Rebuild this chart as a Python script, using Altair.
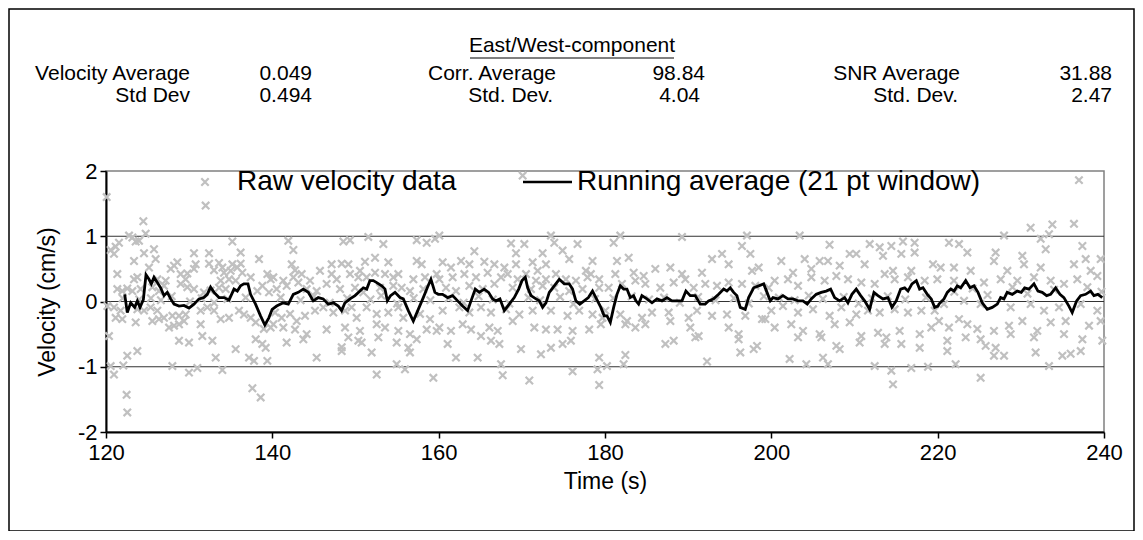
import altair as alt
import pandas as pd

FONT = "Liberation Sans"

# ---------------- data ----------------
raw_120_140 = [
    (120.08, 1.60), (131.98, 1.47), (124.49, 1.23), (124.77, 1.04), (122.77, 1.01), (123.17, 0.98),
    (123.57, 0.92), (123.97, 0.93), (120.56, 0.79), (121.16, 0.84), (121.56, 0.90), (120.96, 0.73),
    (135.19, 0.92), (125.77, 0.80), (124.57, 0.74), (123.37, 0.62), (130.58, 0.74), (132.39, 0.74),
    (136.19, 0.75), (138.40, 0.65), (125.97, 0.65), (128.58, 0.60), (128.18, 0.55), (130.78, 0.57),
    (132.39, 0.58), (133.59, 0.59), (135.19, 0.57), (136.19, 0.58), (125.17, 0.52), (127.78, 0.50),
    (129.78, 0.43), (130.58, 0.50), (132.99, 0.48), (133.99, 0.52), (134.19, 0.44), (134.99, 0.47),
    (135.79, 0.52), (136.39, 0.44), (121.36, 0.42), (123.77, 0.37), (123.37, 0.34), (126.17, 0.34),
    (127.17, 0.32), (128.98, 0.42), (129.58, 0.34), (133.79, 0.32), (134.79, 0.34), (135.59, 0.32),
    (137.40, 0.37), (139.40, 0.42), (139.80, 0.34), (121.36, 0.19), (121.96, 0.16), (122.56, 0.20),
    (123.17, 0.16), (124.17, 0.19), (125.57, 0.22), (126.37, 0.16), (126.97, 0.24), (128.98, 0.27),
    (129.78, 0.22), (130.58, 0.19), (131.78, 0.14), (132.58, 0.17), (133.59, 0.21), (134.39, 0.19),
    (138.20, 0.16), (138.80, 0.24), (139.60, 0.14), (120.16, -0.07), (120.96, -0.09), (121.76, -0.14),
    (121.96, -0.27), (121.16, -0.25), (123.77, -0.12), (124.57, -0.14), (125.37, -0.09), (126.17, -0.14),
    (125.57, -0.30), (126.37, -0.27), (126.97, -0.25), (127.58, -0.40), (128.18, -0.37), (128.78, -0.35),
    (129.38, -0.30), (127.98, -0.22), (128.78, -0.22), (129.58, -0.20), (123.57, -0.32), (131.38, -0.14),
    (132.18, -0.09), (132.99, -0.14), (131.38, -0.35), (133.79, -0.27), (134.79, -0.25), (135.99, -0.14),
    (136.59, -0.20), (137.40, -0.25), (138.00, -0.32), (138.98, -0.42), (139.80, -0.40), (120.36, -0.53),
    (128.78, -0.60), (129.98, -0.63), (131.58, -0.53), (132.79, -0.60), (138.00, -0.58), (138.80, -0.65),
    (139.20, -0.71), (122.56, -0.83), (123.77, -0.76), (135.59, -0.73), (133.19, -0.86), (137.20, -0.86),
    (137.80, -0.91), (139.40, -0.91), (120.56, -0.99), (120.96, -1.12), (122.08, -0.98), (127.98, -0.99),
    (129.98, -1.09), (130.98, -1.02), (133.99, -1.05), (122.48, -1.43), (122.56, -1.70), (137.60, -1.33),
    (138.60, -1.47), (125.40, 0.05), (126.60, 0.02), (127.90, 0.08), (130.10, 0.00), (131.50, 0.05),
    (133.00, -0.02), (134.60, 0.04), (136.80, 0.06), (122.00, 0.05), (124.00, 0.03),
]

raw_140_160 = [
    (141.92, 0.93), (142.53, 0.79), (148.54, 0.92), (149.34, 0.94), (151.54, 0.99), (153.35, 0.88),
    (157.36, 0.94), (158.56, 0.90), (159.56, 0.96), (142.33, 0.57), (142.73, 0.48), (147.13, 0.57),
    (148.34, 0.58), (149.14, 0.57), (151.14, 0.61), (152.35, 0.67), (153.95, 0.60), (157.36, 0.62),
    (157.96, 0.57), (140.12, 0.37), (141.32, 0.32), (142.53, 0.37), (143.53, 0.42), (144.53, 0.32),
    (145.73, 0.47), (147.13, 0.42), (147.74, 0.34), (149.34, 0.42), (150.34, 0.37), (150.54, 0.47),
    (151.34, 0.37), (152.35, 0.44), (153.55, 0.42), (154.55, 0.37), (155.15, 0.42), (156.96, 0.34),
    (158.36, 0.37), (159.76, 0.42), (140.52, 0.19), (141.72, 0.24), (143.13, 0.29), (144.13, 0.19),
    (145.33, 0.16), (146.53, 0.27), (148.14, 0.19), (149.94, 0.21), (150.94, 0.14), (152.95, 0.21),
    (154.55, 0.24), (155.55, 0.21), (156.55, 0.16), (158.16, 0.19), (140.32, -0.17), (141.12, -0.25),
    (142.13, -0.19), (142.93, -0.30), (143.93, -0.22), (145.13, -0.14), (146.13, -0.09), (147.34, -0.17),
    (148.74, -0.14), (149.54, -0.09), (150.14, -0.25), (151.34, -0.09), (152.55, -0.19), (153.95, -0.17),
    (155.15, -0.09), (155.75, -0.25), (157.76, -0.19), (158.96, -0.27), (140.12, -0.35), (141.32, -0.40),
    (142.73, -0.43), (144.13, -0.50), (146.53, -0.43), (148.74, -0.40), (150.54, -0.45), (152.55, -0.35),
    (153.55, -0.40), (155.15, -0.45), (156.55, -0.50), (158.56, -0.43), (159.76, -0.45), (141.72, -0.63),
    (143.73, -0.58), (149.14, -0.55), (150.34, -0.60), (152.75, -0.55), (154.95, -0.63), (157.36, -0.58),
    (148.34, -0.70), (148.34, -0.76), (150.74, -0.63), (151.94, -0.78), (156.35, -0.71), (156.55, -0.78),
    (145.33, -0.86), (154.95, -0.96), (155.95, -1.04), (152.55, -1.12), (159.36, -1.17), (141.00, 0.06),
    (143.40, 0.02), (145.00, 0.08), (146.90, -0.02), (149.00, 0.05), (151.80, 0.03), (153.10, 0.09),
    (155.00, -0.03), (157.00, 0.05), (159.00, 0.02),
]

raw_160_180 = [
    (170.10, 1.93), (160.08, 1.01), (168.70, 0.89), (170.30, 0.88), (173.50, 1.01), (173.90, 0.90),
    (176.70, 0.88), (164.29, 0.77), (169.30, 0.74), (172.50, 0.74), (174.90, 0.78), (175.70, 0.65),
    (178.50, 0.62), (160.48, 0.60), (161.48, 0.52), (162.69, 0.62), (163.69, 0.57), (165.49, 0.61),
    (166.70, 0.57), (167.90, 0.52), (169.30, 0.57), (171.30, 0.60), (171.90, 0.47), (172.90, 0.57),
    (177.70, 0.47), (178.30, 0.42), (160.08, 0.34), (161.68, 0.37), (163.09, 0.42), (164.49, 0.37),
    (165.89, 0.44), (167.50, 0.37), (168.30, 0.42), (169.50, 0.34), (170.50, 0.42), (171.70, 0.32),
    (172.90, 0.34), (174.10, 0.42), (175.30, 0.34), (176.50, 0.32), (177.90, 0.37), (179.30, 0.34),
    (160.88, 0.21), (162.08, 0.16), (163.69, 0.24), (165.29, 0.19), (166.70, 0.27), (168.90, 0.21),
    (171.10, 0.19), (172.50, 0.24), (173.90, 0.21), (175.70, 0.16), (177.30, 0.19), (179.30, 0.21),
    (160.48, -0.14), (162.49, -0.09), (163.69, -0.17), (165.09, -0.09), (166.29, -0.17), (168.10, -0.12),
    (169.70, -0.20), (171.30, -0.14), (173.50, -0.14), (175.50, -0.22), (176.90, -0.14), (178.50, -0.20),
    (179.70, -0.25), (160.08, -0.40), (161.48, -0.45), (162.89, -0.35), (163.89, -0.43), (166.10, -0.40),
    (167.10, -0.45), (168.90, -0.30), (171.50, -0.40), (172.90, -0.43), (174.30, -0.43), (176.10, -0.45),
    (178.10, -0.43), (179.50, -0.35), (161.08, -0.65), (162.08, -0.86), (165.09, -0.53), (166.29, -0.60),
    (167.30, -0.65), (169.90, -0.73), (172.30, -0.81), (173.50, -0.71), (174.90, -0.65), (175.90, -0.60),
    (179.30, -0.86), (164.69, -0.86), (167.50, -0.96), (167.70, -1.13), (170.90, -1.21), (176.10, -1.07),
    (179.10, -1.04), (179.30, -1.28), (161.20, 0.05), (163.00, -0.02), (164.80, 0.08), (166.50, 0.03),
    (168.50, -0.03), (170.80, 0.06), (172.20, 0.02), (174.60, 0.07), (176.20, -0.04), (178.80, 0.04),
]

raw_180_200 = [
    (181.04, 0.90), (181.84, 1.01), (181.44, 0.62), (182.85, 0.67), (189.26, 0.99), (196.47, 0.85),
    (197.07, 1.01), (197.48, 0.73), (181.24, 0.42), (183.45, 0.44), (184.65, 0.39), (186.05, 0.50),
    (187.86, 0.52), (189.26, 0.42), (191.66, 0.44), (192.87, 0.65), (194.07, 0.73), (194.87, 0.57),
    (197.68, 0.47), (198.48, 0.52), (180.44, 0.21), (182.04, 0.27), (183.65, 0.32), (184.85, 0.27),
    (186.65, 0.21), (188.26, 0.29), (189.66, 0.34), (190.66, 0.21), (192.06, 0.27), (193.47, 0.24),
    (194.87, 0.29), (196.47, 0.27), (198.08, 0.24), (199.68, 0.21), (180.04, -0.14), (181.84, -0.20),
    (182.65, -0.30), (184.45, -0.25), (185.65, -0.17), (187.66, -0.17), (190.06, -0.25), (191.06, -0.14),
    (192.87, -0.22), (194.67, -0.20), (196.87, -0.22), (198.88, -0.27), (182.45, -0.35), (183.65, -0.40),
    (184.85, -0.35), (187.86, -0.30), (190.26, -0.40), (191.26, -0.53), (194.87, -0.40), (196.07, -0.50),
    (199.28, -0.27), (187.26, -0.65), (188.26, -0.60), (190.86, -0.55), (196.07, -0.58), (197.88, -0.73),
    (198.28, -0.68), (196.27, -0.78), (180.24, -0.99), (182.24, -0.96), (182.45, -0.82), (192.27, -0.92),
    (181.00, 0.05), (183.20, 0.08), (185.30, 0.03), (187.10, 0.06), (189.00, -0.02), (191.20, 0.07),
    (193.30, 0.02), (195.50, 0.05), (197.30, -0.03), (199.10, 0.08),
]

raw_200_220 = [
    (203.41, 1.01), (207.00, 0.87), (211.83, 0.88), (213.03, 0.83), (214.43, 0.85), (215.83, 0.92),
    (217.23, 0.90), (217.23, 0.75), (201.20, 0.62), (202.61, 0.44), (204.01, 0.65), (204.81, 0.50),
    (205.81, 0.62), (206.81, 0.62), (208.22, 0.55), (209.42, 0.73), (210.22, 0.73), (211.22, 0.57),
    (213.43, 0.70), (214.63, 0.47), (215.63, 0.73), (216.83, 0.47), (219.44, 0.57), (200.40, 0.32),
    (202.00, 0.34), (203.21, 0.24), (204.81, 0.37), (206.41, 0.32), (207.82, 0.39), (209.22, 0.34),
    (210.82, 0.29), (212.43, 0.27), (213.63, 0.42), (214.83, 0.34), (216.43, 0.37), (218.44, 0.32),
    (200.00, -0.14), (201.40, -0.07), (203.21, -0.17), (205.01, -0.12), (207.01, -0.22), (208.42, -0.09),
    (210.22, -0.20), (211.62, -0.14), (213.03, -0.17), (214.83, -0.12), (216.43, -0.17), (218.04, -0.14),
    (219.64, -0.14), (200.40, -0.40), (202.40, -0.35), (203.81, -0.45), (205.81, -0.50), (207.62, -0.35),
    (209.42, -0.32), (210.62, -0.63), (212.83, -0.48), (213.83, -0.55), (215.43, -0.45), (217.84, -0.50),
    (219.24, -0.40), (203.21, -0.55), (206.01, -0.55), (207.82, -0.68), (208.22, -0.73), (210.82, -0.53),
    (213.63, -0.65), (215.63, -0.65), (217.84, -0.71), (202.20, -0.88), (204.21, -0.96), (206.21, -0.86),
    (206.81, -0.96), (212.43, -0.99), (214.43, -1.06), (216.83, -1.02), (218.84, -1.00), (214.63, -1.27),
    (200.90, 0.06), (202.80, 0.02), (204.50, 0.09), (206.20, 0.04), (208.70, 0.07), (210.50, -0.03),
    (212.10, 0.05), (214.00, 0.08), (216.10, 0.03), (218.60, 0.06),
]

raw_220_240 = [
    (236.99, 1.86), (231.18, 1.13), (233.79, 1.18), (236.39, 1.19), (233.39, 1.03), (221.36, 0.90),
    (222.57, 0.88), (227.98, 1.01), (232.39, 0.96), (237.40, 0.85), (223.57, 0.75), (226.97, 0.75),
    (230.18, 0.70), (232.99, 0.80), (237.80, 0.65), (239.60, 0.65), (220.36, 0.52), (221.96, 0.52),
    (223.97, 0.47), (226.77, 0.62), (228.38, 0.47), (230.38, 0.57), (232.39, 0.52), (236.39, 0.57),
    (238.40, 0.47), (219.96, 0.34), (221.96, 0.32), (225.57, 0.29), (227.58, 0.34), (229.58, 0.32),
    (231.58, 0.37), (233.59, 0.32), (235.19, 0.27), (236.79, 0.34), (239.20, 0.39), (220.76, -0.04),
    (223.17, 0.01), (225.17, -0.04), (228.78, -0.09), (231.18, -0.04), (232.79, -0.14), (234.59, -0.09),
    (237.20, -0.04), (239.20, -0.14), (220.16, -0.30), (221.36, -0.40), (222.57, -0.27), (223.57, -0.35),
    (224.77, -0.42), (226.77, -0.45), (228.58, -0.37), (230.18, -0.30), (231.98, -0.45), (233.59, -0.32),
    (235.39, -0.30), (238.20, -0.37), (239.60, -0.30), (221.16, -0.60), (223.37, -0.55), (225.17, -0.58),
    (228.78, -0.50), (231.58, -0.55), (235.19, -0.50), (237.40, -0.58), (239.80, -0.60), (221.16, -0.76),
    (225.77, -0.68), (226.97, -0.71), (226.77, -0.83), (227.98, -0.83), (231.78, -0.78), (234.99, -0.83),
    (235.99, -0.80), (237.20, -0.76), (222.16, -0.96), (233.39, -0.99), (225.17, -1.17), (222.00, 0.15),
    (224.20, 0.20), (226.00, 0.10), (229.00, 0.22), (230.80, 0.12), (234.00, 0.18), (238.00, 0.22),
    (239.70, 0.15),
]

run_120_140 = [
    (122.25, 0.11), (122.56, -0.17), (122.97, -0.02), (123.45, -0.09), (123.77, 0.01), (124.09, -0.09),
    (124.49, 0.03), (124.81, 0.41), (125.17, 0.34), (125.45, 0.27), (125.77, 0.37), (126.17, 0.29),
    (126.57, 0.21), (126.97, 0.09), (127.37, 0.14), (127.78, 0.04), (128.18, -0.04), (128.78, -0.07),
    (129.38, -0.06), (129.98, -0.10), (130.58, -0.04), (131.18, 0.04), (131.78, 0.06), (132.18, 0.11),
    (132.57, 0.22), (132.99, 0.14), (133.59, 0.06), (134.19, 0.06), (134.79, 0.02), (135.39, 0.19),
    (135.79, 0.16), (136.18, 0.24), (136.58, 0.27), (137.07, 0.27), (137.38, 0.11), (137.98, -0.04),
    (138.58, -0.22), (139.10, -0.36), (139.58, -0.25), (139.98, -0.12),
]
run_140_160 = [
    (140.52, -0.07), (141.32, -0.02), (141.92, -0.04), (142.52, 0.11), (143.12, 0.14), (143.72, 0.19),
    (144.32, 0.14), (144.92, 0.01), (145.52, 0.06), (146.12, 0.04), (146.72, -0.04), (147.33, -0.02),
    (147.93, -0.07), (148.33, -0.14), (148.73, -0.02), (149.34, 0.04), (149.94, 0.09), (150.54, 0.16),
    (150.94, 0.21), (151.35, 0.19), (151.74, 0.32), (152.14, 0.32), (152.55, 0.29), (153.15, 0.24),
    (153.55, 0.19), (153.83, 0.01), (154.22, 0.09), (154.75, 0.14), (155.35, 0.06), (155.75, 0.04),
    (156.35, -0.14), (156.95, -0.30), (157.55, -0.12), (158.15, 0.06), (158.63, 0.21), (159.07, 0.34),
    (159.55, 0.14), (159.95, 0.11),
]
run_160_180 = [
    (160.47, 0.11), (161.08, 0.06), (161.68, 0.09), (162.28, 0.01), (162.88, -0.07), (163.48, -0.14),
    (163.89, 0.01), (164.40, 0.19), (164.88, 0.14), (165.48, 0.19), (166.00, 0.14), (166.49, 0.04),
    (166.89, 0.01), (167.37, 0.04), (167.89, -0.14), (168.49, -0.04), (169.09, 0.06), (169.62, 0.19),
    (170.02, 0.32), (170.42, 0.37), (170.70, 0.21), (171.10, 0.09), (171.70, 0.04), (172.10, 0.01),
    (172.50, -0.09), (172.90, -0.02), (173.30, 0.14), (173.90, 0.24), (174.50, 0.34), (175.10, 0.27),
    (175.70, 0.27), (176.10, 0.19), (176.50, 0.01), (176.97, -0.04), (177.49, 0.01), (178.00, 0.06),
    (178.50, 0.16), (178.90, 0.06), (179.50, -0.09), (179.90, -0.22),
]
run_180_200 = [
    (180.24, -0.22), (180.64, -0.32), (181.04, -0.09), (181.44, 0.11), (181.84, 0.24), (182.24, 0.19),
    (182.64, 0.19), (183.04, 0.06), (183.44, 0.09), (183.72, 0.01), (184.04, -0.04), (184.44, 0.09),
    (185.04, 0.04), (185.65, -0.02), (186.25, 0.04), (186.85, 0.01), (187.45, 0.06), (188.05, 0.01),
    (188.65, 0.01), (189.25, 0.01), (189.73, 0.16), (190.25, 0.09), (190.85, 0.09), (191.45, -0.04),
    (192.05, -0.04), (192.46, 0.01), (193.06, 0.04), (193.66, 0.11), (194.27, 0.19), (194.66, 0.16),
    (195.06, 0.21), (195.47, 0.14), (195.86, 0.09), (196.26, -0.09), (196.86, -0.12), (197.27, 0.06),
    (197.88, 0.21), (198.48, 0.24), (199.08, 0.27), (199.48, 0.14), (199.87, 0.01),
]
run_200_220 = [
    (200.20, 0.06), (200.80, 0.04), (201.40, 0.09), (202.00, 0.04), (202.60, 0.04), (203.20, 0.01),
    (203.80, 0.01), (204.32, -0.04), (204.80, 0.04), (205.40, 0.11), (206.00, 0.14), (206.60, 0.16),
    (207.13, 0.19), (207.61, 0.06), (208.21, 0.01), (208.81, 0.06), (209.21, -0.02), (209.69, 0.11),
    (210.21, 0.19), (210.74, 0.09), (211.22, 0.01), (211.82, -0.12), (212.34, 0.14), (212.82, 0.09),
    (213.42, 0.04), (214.02, 0.06), (214.50, -0.09), (215.02, 0.01), (215.55, 0.19), (216.03, 0.21),
    (216.43, 0.16), (216.91, 0.27), (217.43, 0.32), (217.83, 0.19), (218.23, 0.21), (218.75, 0.11),
    (219.23, 0.04), (219.64, -0.09), (220.04, -0.07),
]
run_220_240 = [
    (220.16, -0.04), (220.76, 0.04), (221.16, 0.14), (221.57, 0.19), (221.97, 0.16), (222.36, 0.24),
    (222.77, 0.21), (223.37, 0.32), (223.89, 0.21), (224.37, 0.24), (224.85, 0.14), (225.36, -0.02),
    (225.96, -0.12), (226.56, -0.09), (227.17, -0.04), (227.57, 0.06), (227.97, 0.04), (228.36, 0.14),
    (228.97, 0.11), (229.57, 0.16), (230.05, 0.14), (230.46, 0.21), (230.97, 0.19), (231.58, 0.27),
    (232.06, 0.16), (232.57, 0.14), (233.10, 0.09), (233.58, 0.11), (234.18, 0.21), (234.70, 0.11),
    (235.18, 0.06), (235.78, -0.07), (236.18, -0.17), (236.71, 0.01), (237.19, 0.09), (237.79, 0.11),
    (238.39, 0.16), (238.79, 0.09), (239.27, 0.11), (239.79, 0.06),
]

x_ticks = [120, 140, 160, 180, 200, 220, 240]
y_ticks = [-2, -1, 0, 1, 2]
grid_values = [-1, 0, 1]

raw_df = pd.DataFrame(raw_120_140 + raw_140_160 + raw_160_180 + raw_180_200 + raw_200_220 + raw_220_240,
                      columns=["time", "velocity"])
run_df = pd.DataFrame(run_120_140 + run_140_160 + run_160_180 + run_180_200 + run_200_220 + run_220_240,
                      columns=["time", "velocity"])
grid_df = pd.DataFrame({"velocity": grid_values})

# ---------------- layout ----------------
PLOT_LEFT, PLOT_TOP = 106, 171   # page position of the plot area
W, H = 998, 261


def px(x):
    return alt.value(x - PLOT_LEFT)


def py(y):
    return alt.value(y - PLOT_TOP)


X_MARK = "M-1,-1L1,1M-1,1L1,-1"
xscale = alt.Scale(domain=[120, 240], nice=False, zero=False)
yscale = alt.Scale(domain=[-2, 2], nice=False)

grid = alt.Chart(grid_df).mark_rule(color="#333333", strokeWidth=1).encode(
    y=alt.Y("velocity:Q", scale=yscale)
)

points = alt.Chart(raw_df).mark_point(
    shape=X_MARK, filled=False, color="#c0c0c0", strokeWidth=2.2, size=55, opacity=1
).encode(
    x=alt.X("time:Q", scale=xscale,
            axis=alt.Axis(values=x_ticks, title="Time (s)", grid=False, labelPadding=4,
                          titlePadding=7, labelFlush=False, labelExpr="'' + datum.value")),
    y=alt.Y("velocity:Q", scale=yscale,
            axis=alt.Axis(values=y_ticks, title="Velocity (cm/s)", grid=False, labelPadding=3,
                          titlePadding=18, labelFlush=False, labelExpr="'' + datum.value")),
)

line = alt.Chart(run_df).mark_line(color="black", strokeWidth=2.8).encode(
    x=alt.X("time:Q", scale=xscale),
    y=alt.Y("velocity:Q", scale=yscale),
)

one = alt.Data(values=[{}])


def text(s, x, y, align="left", size=21):
    return alt.Chart(one).mark_text(
        text=s, align=align, baseline="middle", font=FONT, fontSize=size, color="black"
    ).encode(x=px(x), y=py(y))


frame = alt.Chart(one).mark_rect(filled=False, stroke="black", strokeWidth=1.5).encode(
    x=px(9), x2=px(1134), y=py(9), y2=py(531)
)

header = [
    text("East/West-component", 572, 46, align="center"),
    alt.Chart(one).mark_rule(color="black", strokeWidth=1).encode(
        x=px(470), x2=px(674), y=py(58)),
    text("Velocity Average", 190, 74, align="right"),
    text("0.049", 312, 74, align="right"),
    text("Corr. Average", 556, 74, align="right"),
    text("98.84", 705, 74, align="right"),
    text("SNR Average", 960, 74, align="right"),
    text("31.88", 1112, 74, align="right"),
    text("Std Dev", 190, 96, align="right"),
    text("0.494", 312, 96, align="right"),
    text("Std. Dev.", 553, 96, align="right"),
    text("4.04", 700, 96, align="right"),
    text("Std. Dev.", 958, 96, align="right"),
    text("2.47", 1112, 96, align="right"),
]

legend = [
    alt.Chart(one).mark_point(shape=X_MARK, filled=False, color="#c0c0c0", strokeWidth=2.2,
                              size=55, opacity=1).encode(x=px(205), y=py(182)),
    text("Raw velocity data", 237, 182, size=28),
    alt.Chart(one).mark_rule(color="black", strokeWidth=2.5).encode(
        x=px(523), x2=px(572), y=py(182)),
    text("Running average (21 pt window)", 577, 182, size=28),
]

chart = alt.layer(frame, grid, points, line, *legend, *header).properties(
    width=W, height=H,
    padding={"left": PLOT_LEFT - 8, "top": PLOT_TOP - 8, "right": 1135 - (PLOT_LEFT + W),
             "bottom": 531 - (PLOT_TOP + H)},
    autosize=alt.AutoSizeParams(type="none"),
).configure_view(
    stroke="#808080", strokeWidth=1.5
).configure_axis(
    labelFont=FONT, titleFont=FONT, labelFontSize=22, titleFontSize=23,
    labelColor="black", titleColor="black", titleFontWeight="normal",
    domainColor="black", domainWidth=2, tickColor="black", tickSize=6, tickWidth=1.5,
)

chart.save("out.html", embed_options={"renderer": "svg", "actions": False})
